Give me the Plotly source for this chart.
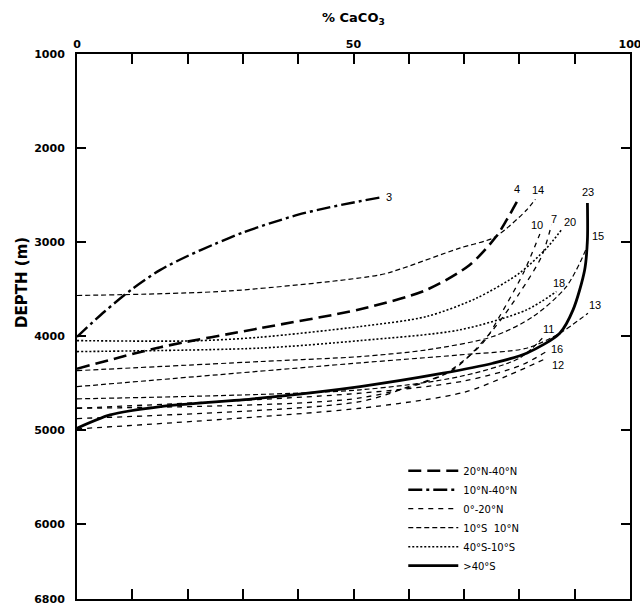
import plotly.graph_objects as go

# ---- data: (% CaCO3, depth m) for each numbered curve ----
c3_pct = [0, 5, 10, 15, 20, 25, 30, 35, 40, 45, 50, 55]
c3_dep = [4010, 3740, 3500, 3300, 3150, 3020, 2900, 2800, 2710, 2640, 2580, 2525]

c4_pct = [0, 15.1, 33.1, 51.2, 63.2, 71, 75.8, 77.7, 79.9]
c4_dep = [4350, 4120, 3918, 3716, 3510, 3245, 2943, 2766, 2535]

c14_pct = [0, 27.7, 54.8, 58.4, 69.2, 75.2, 77.7, 81.3, 82.9]
c14_dep = [3570, 3521, 3351, 3290, 3066, 2960, 2855, 2660, 2546]

c20_pct = [0, 21, 33.1, 51.2, 63.2, 72.2, 80, 84.9, 87.6]
c20_dep = [4050, 4053, 4014, 3900, 3794, 3600, 3333, 3067, 2872]

c18_pct = [0, 33.1, 51.2, 69.2, 81.3, 86.7]
c18_dep = [4167, 4130, 4050, 3936, 3723, 3528]

c15_pct = [0, 33.1, 51.2, 63.2, 75.2, 82.5, 88.5, 92.1, 92.4]
c15_dep = [4370, 4273, 4220, 4149, 4007, 3794, 3475, 3067, 2985]

c13_pct = [0, 51.2, 69.2, 81.3, 87.3, 92.4]
c13_dep = [4540, 4287, 4202, 4131, 3971, 3759]

c11_pct = [0, 51.2, 69.2, 80, 84.5]
c11_dep = [4670, 4574, 4433, 4237, 4003]

c16_pct = [0, 51.2, 70, 80, 84.9]
c16_dep = [4770, 4610, 4480, 4320, 4167]

c12_pct = [0, 51.2, 70, 78, 84.9]
c12_dep = [4990, 4770, 4600, 4420, 4238]

c10_pct = [0, 51.2, 66, 73.4, 76.4, 80.7, 83.7]
c10_dep = [4770, 4660, 4420, 4074, 3794, 3333, 2915]

c7_pct = [0, 51.2, 60, 68, 75.2, 80, 84, 85.8]
c7_dep = [4880, 4700, 4540, 4362, 3936, 3546, 3156, 2819]

c23_pct = [0, 6, 15.1, 33.1, 51.2, 66.2, 75.2, 81.3, 87.3, 89.7, 91.8, 92.3, 92.3]
c23_dep = [4982, 4840, 4752, 4663, 4539, 4397, 4291, 4184, 3971, 3723, 3298, 2980, 2585]

x_ticks = [0, 50, 100]
x_ticktext = ["0", "50", "100"]
y_ticks = [1000, 2000, 3000, 4000, 5000, 6000, 6800]

FONT = "DejaVu Sans, Verdana, sans-serif"

# ---- styles per group ----
styles = {
    "20°N-40°N": dict(color="black", width=2.6, dash="13px,6px"),
    "10°N-40°N": dict(color="black", width=2.4, dash="14px,4px,3px,4px"),
    "0°-20°N": dict(color="black", width=1.3, dash="5px,5px"),
    "10°S  10°N": dict(color="black", width=1.2, dash="5px,3px"),
    "40°S-10°S": dict(color="black", width=1.6, dash="2px,2px"),
    ">40°S": dict(color="black", width=2.8),
}

curves = [
    ("3", "10°N-40°N", c3_pct, c3_dep, 8, 0),
    ("4", "20°N-40°N", c4_pct, c4_dep, -2, 9),
    ("14", "10°S  10°N", c14_pct, c14_dep, 3, 9),
    ("10", "0°-20°N", c10_pct, c10_dep, -3, 9),
    ("7", "0°-20°N", c7_pct, c7_dep, 3, 6),
    ("20", "40°S-10°S", c20_pct, c20_dep, 9, 8),
    ("23", ">40°S", c23_pct, c23_dep, 1, 11),
    ("15", "10°S  10°N", c15_pct, c15_dep, 10, 5),
    ("18", "40°S-10°S", c18_pct, c18_dep, 3, 9),
    ("13", "10°S  10°N", c13_pct, c13_dep, 7, 8),
    ("11", "10°S  10°N", c11_pct, c11_dep, 4, 7),
    ("16", "0°-20°N", c16_pct, c16_dep, 10, 3),
    ("12", "0°-20°N", c12_pct, c12_dep, 11, -7),
]

legend_order = ["20°N-40°N", "10°N-40°N", "0°-20°N", "10°S  10°N", "40°S-10°S", ">40°S"]

fig = go.Figure()
for i, name in enumerate(legend_order):
    fig.add_trace(go.Scatter(
        x=[None], y=[None], mode="lines", name=name, line=styles[name],
        showlegend=True, legendrank=i + 1, hoverinfo="skip"))

annotations = []
for lab, grp, px, dep, dx, dy in curves:
    fig.add_trace(go.Scatter(
        x=px, y=dep, mode="lines", line=dict(**styles[grp], shape="spline", smoothing=0.8),
        showlegend=False, hoverinfo="skip"))
    annotations.append(dict(
        x=px[-1], y=dep[-1], xref="x", yref="y", text=lab, showarrow=False,
        xshift=dx, yshift=dy, xanchor="center", yanchor="middle",
        font=dict(family="Liberation Sans, Arial", size=11, color="black")))

annotations.append(dict(
    x=0.5, y=1, xref="paper", yref="paper", yshift=36, text="<b>% CaCO<sub>3</sub></b>",
    showarrow=False, xanchor="center", yanchor="middle",
    font=dict(family=FONT, size=13, color="black")))
annotations.append(dict(
    x=0, y=0.58, xref="paper", yref="paper", xshift=-55, text="<b>DEPTH (m)</b>",
    textangle=-90, showarrow=False, xanchor="center", yanchor="middle",
    font=dict(family=FONT, size=15, color="black")))

fig.update_layout(
    width=640, height=606,
    margin=dict(l=77, r=10, t=54, b=7, autoexpand=False),
    paper_bgcolor="white", plot_bgcolor="white",
    font=dict(family=FONT, size=10, color="black"),
    annotations=annotations,
    legend=dict(x=0.59, y=0.262, xanchor="left", yanchor="top",
                bgcolor="rgba(0,0,0,0)", traceorder="normal",
                font=dict(family=FONT, size=10), itemwidth=50),
    showlegend=True,
)
fig.update_xaxes(
    range=[0, 100], side="top", showgrid=False, zeroline=False, automargin=False,
    showline=True, linecolor="black", linewidth=2, mirror="ticks",
    ticks="inside", ticklen=10, tickwidth=1.5, tickcolor="black",
    tickvals=x_ticks, ticktext=x_ticktext, ticklabeloverflow="allow",
    minor=dict(ticks="inside", ticklen=10, tickwidth=1.5, tickcolor="black", dtick=10, showgrid=False),
    tickfont=dict(family=FONT, size=11, color="black", weight="bold"),
)
fig.update_yaxes(
    range=[6800, 1000], showgrid=False, zeroline=False, automargin=False,
    showline=True, linecolor="black", linewidth=2, mirror="ticks",
    ticks="inside", ticklen=9, tickwidth=1.5, tickcolor="black",
    tickvals=y_ticks, ticktext=[str(v) for v in y_ticks],
    ticklabelstandoff=8, ticklabeloverflow="allow",
    tickfont=dict(family=FONT, size=11, color="black", weight="bold"),
)

fig.write_html("out.html", config={"displayModeBar": False},
               post_script="document.body.style.margin='0px';")
